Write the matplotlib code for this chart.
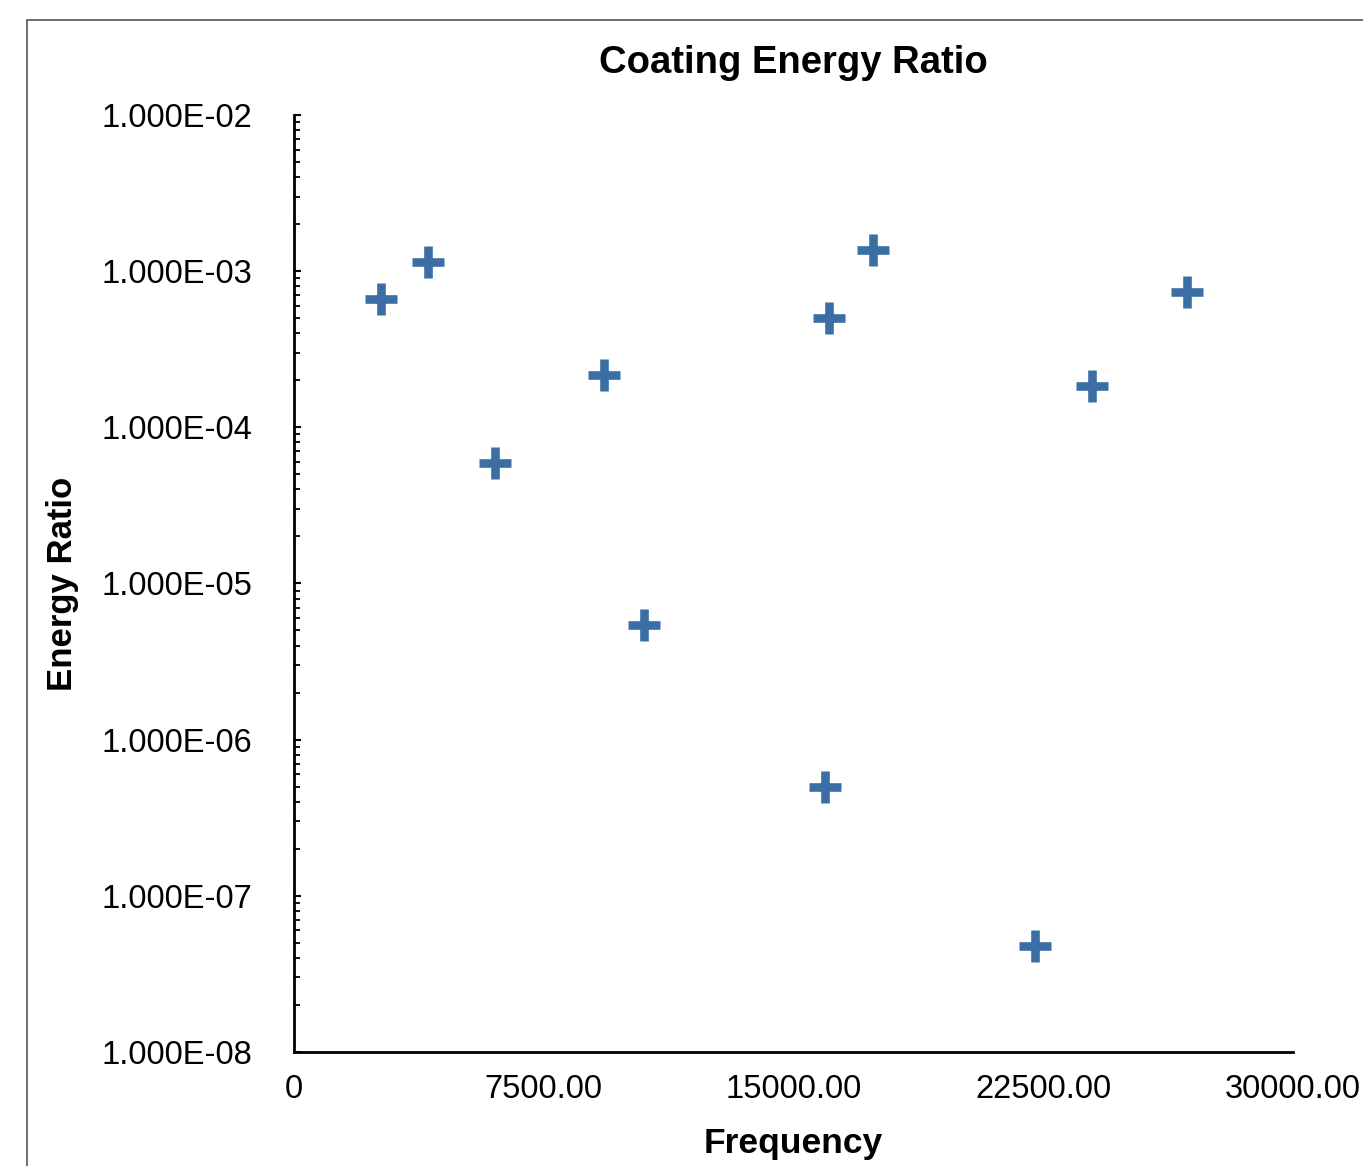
import matplotlib.pyplot as plt
from matplotlib.ticker import LogLocator, FixedLocator
from matplotlib.patches import Rectangle

# values
frequency = [2613, 4024, 6036, 9309, 10511, 15946, 16066, 17387, 22252, 23964, 26817]
energy_ratio = [6.6e-4, 1.15e-3, 5.9e-5, 2.16e-4, 5.4e-6, 4.98e-7, 5.0e-4, 1.37e-3, 4.8e-8, 1.84e-4, 7.4e-4]

x_ticks = [0, 7500, 15000, 22500, 30000]
x_tick_labels = ['0', '7500.00', '15000.00', '22500.00', '30000.00']
y_ticks = [1e-8, 1e-7, 1e-6, 1e-5, 1e-4, 1e-3, 1e-2]
y_tick_labels = ['1.000E-08', '1.000E-07', '1.000E-06', '1.000E-05',
                 '1.000E-04', '1.000E-03', '1.000E-02']

plt.rcParams['font.family'] = ['Liberation Sans', 'DejaVu Sans']

fig = plt.figure(figsize=(13.63, 11.66), dpi=100)
ax = fig.add_axes([0.2157, 0.0978, 0.7330, 0.8036])

# cropped frame around the figure (only left and top edges visible)
fig.patches.append(Rectangle((27 / 1363, -0.1), 1.2, 1 - 20 / 1166 + 0.1,
                             transform=fig.transFigure, fill=False,
                             edgecolor='#555555', linewidth=1.2))

ax.plot(frequency, energy_ratio, linestyle='none', marker='+',
        markersize=23, markeredgewidth=6.2, color='#3a6ea5')

ax.set_yscale('log')
ax.set_xlim(0, 30000)
ax.set_ylim(1e-8, 1e-2)

ax.xaxis.set_major_locator(FixedLocator(x_ticks))
ax.set_xticklabels(x_tick_labels)
ax.yaxis.set_major_locator(FixedLocator(y_ticks))
ax.set_yticklabels(y_tick_labels)
ax.yaxis.set_minor_locator(LogLocator(base=10, subs=range(2, 10)))
ax.yaxis.set_minor_formatter(plt.NullFormatter())

ax.tick_params(axis='x', length=0, pad=16, labelsize=23.5)
ax.tick_params(axis='y', which='major', direction='in', length=5, width=1.5,
               pad=30, labelsize=23.5)
ax.tick_params(axis='y', which='minor', direction='in', length=4, width=1.3)

for s in ['top', 'right']:
    ax.spines[s].set_visible(False)
for s in ['left', 'bottom']:
    ax.spines[s].set_linewidth(2)
    ax.spines[s].set_color('black')

ax.set_title('Coating Energy Ratio', fontsize=27.5, fontweight='bold', pad=30)
ax.set_xlabel('Frequency', fontsize=25.5, fontweight='bold', labelpad=16)
ax.set_ylabel('Energy Ratio', fontsize=25, fontweight='bold', labelpad=16)

fig.savefig('out.png', dpi=100)
